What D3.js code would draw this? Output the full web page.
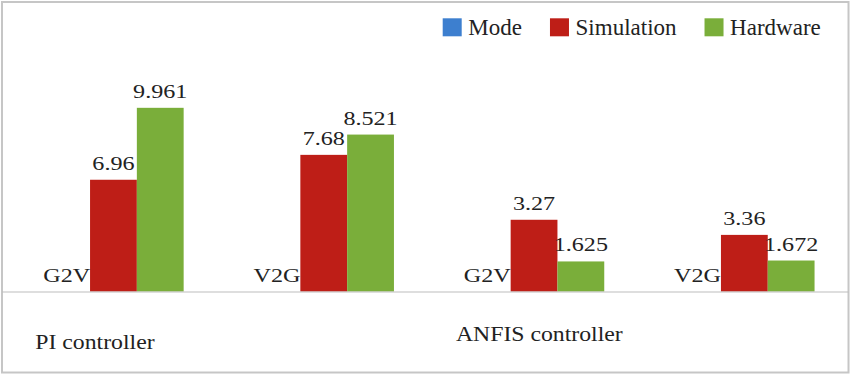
<!DOCTYPE html>
<html>
<head>
<meta charset="utf-8">
<script src="https://cdn.jsdelivr.net/npm/d3@7"></script>
<style>
body{margin:0;background:#fff}
text{font-family:"Liberation Serif","Times New Roman",serif;fill:#222}
</style>
</head>
<body>
<div id="chart"></div>
<script>
// categories (two level axis)
var groups = ["PI controller","ANFIS controller"]
var modes = ["G2V","V2G","G2V","V2G"]
var modeGroup = [0,0,1,1]
var series = ["Mode","Simulation","Hardware"]

// bar heights as drawn in the picture
var modeVals = [0,0,0,0]
var simulation = [6.06,7.41,3.89,3.07]
var hardware = [9.961,8.51,1.63,1.68]

// printed data labels
var simLabels = ["6.96","7.68","3.27","3.36"]
var hwLabels = ["9.961","8.521","1.625","1.672"]

var colors = {Mode:"#3d7fcf",Simulation:"#be1e17",Hardware:"#7aae3a"}

var W = 851, H = 375
var svg = d3.select("#chart").append("svg").attr("width",W).attr("height",H)

// frame
svg.append("rect").attr("x",2).attr("y",2).attr("width",846.5).attr("height",370.5)
	.attr("fill","#fff").attr("stroke","#c6c6c6").attr("stroke-width",2)

var x = d3.scaleBand().domain(d3.range(modes.length)).range([8.3,849.5])
	.paddingInner(0.3324).paddingOuter(0.1662)
var xs = d3.scaleBand().domain(series).range([0,x.bandwidth()])
var y = d3.scaleLinear().domain([0,10]).range([291.5,107.1])

var rows = modes.map(function(m,i){
	return [
		{s:"Mode",v:modeVals[i],label:m},
		{s:"Simulation",v:simulation[i],label:simLabels[i]},
		{s:"Hardware",v:hardware[i],label:hwLabels[i]}
	]
})

var g = svg.selectAll(".grp").data(rows).enter().append("g")
	.attr("class","grp")
	.attr("transform",function(d,i){return "translate("+x(i)+",0)"})

g.selectAll("rect").data(function(d){return d}).enter().append("rect")
	.attr("x",function(d){return xs(d.s)})
	.attr("width",xs.bandwidth())
	.attr("y",function(d){return y(d.v)})
	.attr("height",function(d){return y(0)-y(d.v)})
	.attr("fill",function(d){return colors[d.s]})

g.selectAll("text").data(function(d){return d}).enter().append("text")
	.attr("text-anchor","middle")
	.attr("font-size","19px")
	.attr("transform",function(d){
		return "translate("+(xs(d.s)+xs.bandwidth()/2)+","+(y(d.v)-10)+") scale(1.27,1)"
	})
	.text(function(d){return d.label})

// category axis line
svg.append("line").attr("x1",2).attr("x2",848.5)
	.attr("y1",y(0)+0.5).attr("y2",y(0)+0.5)
	.attr("stroke","#bdbdbd").attr("stroke-width",1)

// outer category labels
var groupStart = groups.map(function(gr,k){return modeGroup.indexOf(k)})
var groupY = [349,341.5]
svg.selectAll(".glabel").data(groups).enter().append("text")
	.attr("class","glabel")
	.attr("x",function(d,k){return x(groupStart[k])-x.step()*x.paddingOuter()+27})
	.attr("y",function(d,k){return groupY[k]})
	.attr("font-size","22px")
	.attr("transform",function(d,k){
		var px = x(groupStart[k])-x.step()*x.paddingOuter()+27
		return "translate("+px+",0) scale(1.08,1) translate("+(-px)+",0)"
	})
	.text(function(d){return d})

// legend
var legend = svg.append("g").attr("transform","translate(442.7,18.3)")
var lx = 0
series.forEach(function(s){
	var item = legend.append("g").attr("transform","translate("+lx+",0)")
	item.append("rect").attr("width",19).attr("height",18).attr("fill",colors[s])
	var t = item.append("text").attr("x",25.6).attr("y",16.8).attr("font-size","23px").text(s)
	lx += 25.6 + t.node().getComputedTextLength() + 28
})
</script>
</body>
</html>
